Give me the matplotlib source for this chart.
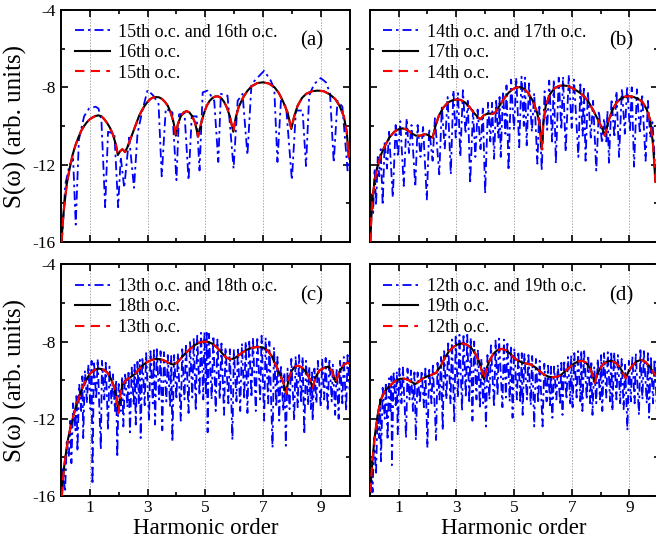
import matplotlib
matplotlib.use("Agg")
import matplotlib.pyplot as plt
from matplotlib.ticker import FixedLocator

plt.rcParams['font.family'] = ['Liberation Serif', 'DejaVu Serif']

# ---------------- data ----------------
xticks_major = [1, 3, 5, 7, 9]
xticks_minor = [0, 2, 4, 6, 8, 10]
yticks_major = [-16, -12, -8, -4]
yticks_minor = [-14, -10, -6]
xlabel = "Harmonic order"
ylabel = "S(ω) (arb. units)"

labels_a = ["15th o.c. and 16th o.c.", "16th o.c.", "15th o.c."]
labels_b = ["14th o.c. and 17th o.c.", "17th o.c.", "14th o.c."]
labels_c = ["13th o.c. and 18th o.c.", "18th o.c.", "13th o.c."]
labels_d = ["12th o.c. and 19th o.c.", "19th o.c.", "12th o.c."]
panel_tags = ["(a)", "(b)", "(c)", "(d)"]

# panel (a)
a_blue_x = [0.03, 0.15, 0.3, 0.42, 0.51, 0.62, 0.8, 0.97, 1.2, 1.3, 1.4, 1.53, 1.63, 1.85, 1.98,
            2.07, 2.19, 2.36, 2.53, 2.65, 2.82, 3.0, 3.2, 3.38, 3.49, 3.63, 3.86, 4.0, 4.09, 4.28,
            4.42, 4.53, 4.7, 4.8, 4.91, 5.08, 5.31, 5.45, 5.54, 5.77, 5.98, 6.12, 6.29, 6.46, 6.6,
            7.04, 7.27, 7.39, 7.5, 7.62, 7.8, 8.0, 8.14, 8.37, 8.49, 8.6, 8.77, 9.0, 9.18, 9.32,
            9.45, 9.58, 9.75, 9.93, 10.0]
a_blue_y = [-16.0, -13.0, -12.0, -11.7, -15.1, -10.7, -9.5, -9.1, -9.0, -9.1, -9.7, -14.2, -10.3, -10.4, -14.2,
            -11.6, -13.2, -10.6, -13.2, -10.4, -9.2, -8.14, -8.43, -8.86, -12.6, -9.1, -9.3, -12.8, -9.4, -9.35,
            -12.8, -9.5, -9.5, -12.3, -8.26, -8.17, -8.7, -11.86, -8.34, -8.43, -12.2, -8.7, -8.34, -11.5, -7.83,
            -7.14, -7.66, -8.09, -11.86, -8.7, -9.0, -12.8, -9.2, -9.2, -12.07, -8.43, -7.83, -7.52, -7.74, -8.3,
            -11.9, -8.7, -9.0, -12.3, -11.5]
a_black_x = [0.02, 0.05, 0.1, 0.2, 0.3, 0.4, 0.5, 0.6, 0.7, 0.8, 0.9, 1.0, 1.1, 1.2, 1.3, 1.4, 1.5, 1.6,
             1.7, 1.8, 1.9, 1.97, 2.05, 2.13, 2.22, 2.3, 2.4, 2.5, 2.6, 2.7, 2.8, 2.9, 3.0, 3.1, 3.2,
             3.3, 3.4, 3.5, 3.6, 3.7, 3.8, 3.9, 3.98, 4.05, 4.15, 4.25, 4.35, 4.45, 4.55, 4.65, 4.75,
             4.85, 4.95, 5.05, 5.15, 5.25, 5.35, 5.45, 5.55, 5.65, 5.75, 5.85, 5.97, 6.05, 6.15, 6.3,
             6.45, 6.6, 6.8, 7.0, 7.2, 7.4, 7.55, 7.7, 7.85, 7.98, 8.08, 8.2, 8.35, 8.5, 8.7, 8.9, 9.1,
             9.3, 9.5, 9.65, 9.8, 9.9, 9.97, 10.0]
a_black_y = [-16.0, -15.2, -14.3, -13.0, -12.2, -11.5, -11.0, -10.6, -10.25, -10.0, -9.8, -9.65, -9.55, -9.48, -9.45, -9.5, -9.65, -9.85,
             -10.1, -10.45, -10.95, -11.5, -11.3, -11.2, -11.35, -11.1, -10.7, -10.3, -9.9, -9.5, -9.2, -8.95, -8.75, -8.6, -8.52,
             -8.5, -8.52, -8.6, -8.75, -8.95, -9.3, -9.8, -10.5, -9.9, -9.5, -9.3, -9.23, -9.3, -9.5, -9.85, -10.55,
             -9.9, -9.35, -8.95, -8.7, -8.55, -8.47, -8.47, -8.55, -8.75, -9.05, -9.5, -10.3, -9.6, -9.05, -8.55,
             -8.2, -7.95, -7.78, -7.74, -7.8, -8.0, -8.3, -8.75, -9.3, -10.15, -9.5, -8.95, -8.55, -8.33, -8.2, -8.17, -8.2,
             -8.35, -8.6, -8.95, -9.5, -10.3, -11.6, -11.2]
a_red_x = list(a_black_x)
a_red_y = list(a_black_y)

# panel (b)
b_blue_x = [0.02, 0.08, 0.12, 0.17, 0.22, 0.28, 0.33, 0.38, 0.45, 0.52, 0.6, 0.67, 0.8, 0.9, 0.98, 1.06,
            1.18, 1.28, 1.36, 1.45, 1.58, 1.66, 1.76, 1.85, 1.98, 2.06, 2.18, 2.26, 2.41, 2.5, 2.6, 2.7,
            2.81, 2.9, 2.98, 3.06, 3.14, 3.23, 3.32, 3.4, 3.48, 3.58, 3.66, 3.74, 3.84, 3.92, 4.0, 4.1,
            4.18, 4.24, 4.31, 4.38, 4.46, 4.5, 4.54, 4.62, 4.7, 4.74, 4.81, 4.9, 5.0, 5.08, 5.18, 5.26,
            5.34, 5.38, 5.44, 5.52, 5.62, 5.7, 5.81, 5.88, 5.96, 6.06, 6.15, 6.22, 6.32, 6.38, 6.45, 6.55,
            6.64, 6.7, 6.79, 6.9, 7.0, 7.08, 7.23, 7.3, 7.38, 7.42, 7.48, 7.56, 7.66, 7.74, 7.85, 7.94,
            8.05, 8.12, 8.2, 8.24, 8.29, 8.38, 8.48, 8.55, 8.64, 8.74, 8.84, 8.92, 9.02, 9.08, 9.16, 9.26,
            9.36, 9.44, 9.56, 9.64, 9.72, 9.8, 9.9, 10.0]
b_blue_y = [-16.0, -13.4, -14.5, -12.2, -14.1, -11.6, -12.6, -11.2, -14.1, -10.8, -12.2, -10.3, -13.7, -9.95, -11.6, -9.75,
            -13.1, -9.6, -11.4, -9.95, -13.15, -9.95, -11.6, -10.05, -13.8, -10.15, -11.8, -9.6, -12.5, -9.0, -11.2, -8.5,
            -12.5, -8.15, -10.6, -8.3, -11.6, -8.15, -10.4, -8.7, -13.0, -9.2, -11.6, -9.15, -11.2, -9.1, -13.5, -8.8,
            -10.8, -8.8, -11.7, -8.7, -10.6, -8.5, -11.6, -8.2, -10.4, -7.9, -12.3, -7.6, -10.2, -7.5, -11.1, -7.45,
            -10.0, -7.5, -11.0, -7.8, -10.3, -8.3, -11.95, -9.0, -12.3, -8.2, -10.2, -7.65, -10.8, -7.6, -11.95, -7.5,
            -10.2, -7.45, -11.35, -7.35, -10.1, -7.6, -11.6, -7.85, -10.5, -7.95, -11.8, -8.2, -10.6, -8.7, -12.3, -9.2,
            -10.9, -9.6, -10.8, -9.2, -11.9, -8.6, -10.6, -8.2, -11.6, -8.05, -10.4, -7.95, -10.3, -8.0, -12.1, -8.1,
            -10.4, -8.35, -11.8, -8.7, -10.6, -9.8, -12.5, -11.5]
b_black_x = [0.02, 0.06, 0.1, 0.16, 0.25, 0.39, 0.5, 0.68, 0.85, 1.0, 1.15, 1.3, 1.45, 1.6, 1.75, 1.9, 2.0,
             2.1, 2.18, 2.28, 2.4, 2.55, 2.7, 2.85, 3.0, 3.15, 3.3, 3.45, 3.6, 3.75, 3.83, 3.95, 4.1, 4.25,
             4.35, 4.5, 4.65, 4.8, 4.95, 5.1, 5.2, 5.35, 5.5, 5.65, 5.8, 5.9, 5.96, 6.02, 6.1, 6.25, 6.4,
             6.55, 6.7, 6.85, 7.0, 7.15, 7.3, 7.45, 7.6, 7.75, 7.9, 8.05, 8.15, 8.25, 8.4, 8.55, 8.7, 8.85,
             9.0, 9.15, 9.3, 9.45, 9.6, 9.72, 9.82, 9.9, 10.0]
b_black_y = [-16.0, -14.6, -13.7, -13.0, -12.2, -11.5, -11.1, -10.6, -10.3, -10.17, -10.12, -10.2, -10.38, -10.5, -10.5, -10.42, -10.45,
             -10.55, -10.6, -10.0, -9.45, -9.05, -8.8, -8.68, -8.63, -8.65, -8.78, -9.0, -9.3, -9.55, -9.65, -9.45, -9.35, -9.38,
             -9.3, -8.95, -8.6, -8.3, -8.1, -8.0, -7.99, -8.08, -8.3, -8.7, -9.3, -10.0, -11.2, -9.8, -8.95, -8.35, -8.05,
             -7.93, -7.9, -7.93, -8.02, -8.15, -8.3, -8.5, -8.8, -9.2, -9.65, -10.1, -10.5, -9.85, -9.2, -8.8, -8.58, -8.48,
             -8.46, -8.5, -8.6, -8.75, -9.15, -9.7, -11.0, -12.9, -11.5]
b_red_x = list(b_black_x)
b_red_y = list(b_black_y)

# panel (c)
c_blue_x = [0.03, 0.07, 0.14, 0.2, 0.27, 0.32, 0.36, 0.42, 0.5, 0.54, 0.57, 0.63, 0.7, 0.74, 0.77, 0.83,
            0.9, 0.95, 1.02, 1.06, 1.09, 1.14, 1.22, 1.27, 1.38, 1.42, 1.5, 1.55, 1.63, 1.68, 1.75, 1.8,
            1.87, 1.91, 1.95, 2.0, 2.07, 2.12, 2.16, 2.22, 2.3, 2.34, 2.39, 2.45, 2.52, 2.55, 2.59, 2.65,
            2.7, 2.73, 2.76, 2.82, 2.9, 2.95, 3.05, 3.1, 3.18, 3.22, 3.26, 3.32, 3.4, 3.45, 3.51, 3.57,
            3.65, 3.7, 3.78, 3.82, 3.86, 3.92, 4.0, 4.05, 4.15, 4.2, 4.28, 4.33, 4.42, 4.47, 4.55, 4.6,
            4.67, 4.72, 4.8, 4.85, 4.93, 4.97, 5.02, 5.05, 5.08, 5.13, 5.22, 5.28, 5.36, 5.42, 5.5, 5.56,
            5.65, 5.7, 5.8, 5.85, 5.94, 5.99, 6.08, 6.13, 6.21, 6.27, 6.35, 6.4, 6.46, 6.52, 6.6, 6.65,
            6.75, 6.8, 6.9, 6.95, 7.04, 7.09, 7.18, 7.22, 7.33, 7.38, 7.46, 7.5, 7.56, 7.62, 7.7, 7.74,
            7.79, 7.85, 7.92, 7.98, 8.08, 8.13, 8.2, 8.25, 8.32, 8.37, 8.43, 8.49, 8.56, 8.6, 8.66, 8.7,
            8.72, 8.78, 8.85, 8.9, 9.0, 9.05, 9.12, 9.17, 9.24, 9.3, 9.38, 9.42, 9.5, 9.55, 9.62, 9.67,
            9.75, 9.8, 9.88, 9.93, 10.0]
c_blue_y = [-16.0, -14.6, -15.8, -13.2, -14.0, -12.0, -14.3, -11.2, -12.6, -10.7, -13.7, -10.2, -11.6, -9.8, -13.0, -9.5,
            -11.2, -9.2, -11.5, -9.0, -15.4, -9.0, -11.0, -8.9, -13.6, -9.0, -11.0, -9.1, -12.6, -9.3, -11.2, -9.7,
            -11.6, -10.0, -14.0, -10.2, -11.6, -9.8, -12.4, -9.6, -11.4, -9.5, -12.7, -9.35, -11.3, -9.2, -12.3, -9.05,
            -11.2, -8.95, -13.0, -8.8, -11.3, -8.6, -12.1, -8.5, -11.2, -8.45, -12.3, -8.4, -11.0, -8.5, -12.6, -8.55,
            -11.1, -8.7, -11.4, -8.75, -13.2, -8.7, -11.0, -8.6, -12.1, -8.4, -11.0, -8.1, -11.7, -7.95, -10.9, -7.8,
            -11.6, -7.7, -10.8, -7.55, -11.0, -7.5, -10.8, -7.55, -12.7, -7.6, -11.0, -7.7, -11.6, -7.9, -11.0, -8.1,
            -11.8, -8.3, -11.2, -8.4, -13.1, -8.4, -11.1, -8.3, -11.6, -8.1, -11.0, -8.0, -11.7, -7.9, -10.9, -7.8,
            -11.6, -7.75, -11.0, -7.7, -12.1, -7.8, -11.2, -8.0, -13.5, -8.3, -11.4, -8.8, -12.1, -9.2, -11.6, -9.6,
            -13.4, -9.4, -11.5, -8.9, -12.1, -8.75, -11.4, -8.7, -11.2, -8.8, -12.8, -9.0, -11.3, -9.3, -11.5, -9.6,
            -12.1, -9.4, -11.2, -9.0, -11.4, -8.9, -11.0, -8.85, -11.6, -8.9, -11.1, -9.2, -11.8, -9.4, -12.0, -9.0,
            -11.2, -8.8, -11.6, -8.7, -10.5]
c_black_x = [0.03, 0.06, 0.1, 0.16, 0.25, 0.34, 0.43, 0.51, 0.62, 0.74, 0.88, 1.03, 1.18, 1.32, 1.46, 1.6,
             1.72, 1.84, 1.92, 1.99, 2.05, 2.13, 2.25, 2.4, 2.55, 2.7, 2.85, 3.0, 3.15, 3.3, 3.45, 3.6,
             3.75, 3.9, 4.05, 4.2, 4.35, 4.5, 4.65, 4.8, 4.95, 5.1, 5.25, 5.4, 5.55, 5.7, 5.85, 6.0,
             6.15, 6.3, 6.45, 6.6, 6.8, 6.98, 7.15, 7.3, 7.45, 7.6, 7.72, 7.8, 7.88, 7.98, 8.1, 8.22,
             8.35, 8.5, 8.62, 8.72, 8.82, 8.95, 9.1, 9.25, 9.38, 9.52, 9.65, 9.8, 9.93, 10.0]
c_black_y = [-16.0, -15.3, -14.6, -13.9, -13.0, -12.4, -11.85, -11.4, -10.9, -10.4, -9.95, -9.62, -9.45, -9.4, -9.45, -9.6,
             -9.9, -10.35, -10.9, -11.7, -10.8, -10.25, -10.0, -9.85, -9.7, -9.45, -9.2, -9.05, -8.95, -8.9, -8.92, -9.0,
             -9.12, -9.2, -9.05, -8.8, -8.55, -8.35, -8.17, -8.05, -8.0, -8.02, -8.12, -8.3, -8.55, -8.8, -8.92, -8.88,
             -8.72, -8.55, -8.42, -8.33, -8.28, -8.3, -8.45, -8.75, -9.25, -9.75, -10.2, -10.7, -10.0, -9.55, -9.3, -9.25,
             -9.35, -9.6, -9.95, -10.4, -9.85, -9.5, -9.38, -9.3, -9.5, -10.1, -9.55, -9.2, -9.1, -9.15]
c_red_x = list(c_black_x)
c_red_y = list(c_black_y)

# panel (d)
d_blue_x = [0.02, 0.06, 0.1, 0.15, 0.22, 0.27, 0.33, 0.36, 0.39, 0.45, 0.52, 0.56, 0.62, 0.67, 0.72, 0.75,
            0.77, 0.83, 0.9, 0.94, 0.97, 1.03, 1.1, 1.15, 1.26, 1.31, 1.38, 1.43, 1.5, 1.55, 1.6, 1.66,
            1.74, 1.8, 1.88, 1.93, 2.0, 2.06, 2.14, 2.19, 2.3, 2.35, 2.42, 2.47, 2.53, 2.58, 2.66, 2.72,
            2.8, 2.85, 2.93, 2.98, 3.06, 3.11, 3.2, 3.25, 3.33, 3.38, 3.45, 3.5, 3.56, 3.62, 3.7, 3.75,
            3.82, 3.87, 3.93, 3.97, 4.03, 4.08, 4.15, 4.2, 4.31, 4.36, 4.43, 4.48, 4.6, 4.65, 4.72, 4.77,
            4.85, 4.9, 4.95, 5.01, 5.1, 5.15, 5.22, 5.27, 5.3, 5.36, 5.45, 5.5, 5.58, 5.63, 5.7, 5.76,
            5.84, 5.89, 5.99, 6.05, 6.13, 6.18, 6.25, 6.28, 6.33, 6.39, 6.47, 6.52, 6.6, 6.64, 6.68, 6.74,
            6.82, 6.87, 6.95, 6.98, 7.03, 7.09, 7.17, 7.22, 7.3, 7.33, 7.37, 7.43, 7.52, 7.57, 7.64, 7.68,
            7.72, 7.78, 7.85, 7.9, 7.98, 8.02, 8.06, 8.12, 8.2, 8.25, 8.33, 8.37, 8.41, 8.47, 8.55, 8.6,
            8.68, 8.73, 8.8, 8.85, 8.93, 8.98, 9.05, 9.1, 9.18, 9.22, 9.33, 9.38, 9.45, 9.5, 9.6, 9.64,
            9.68, 9.74, 9.82, 9.87, 9.95, 10.0]
d_blue_y = [-15.9, -14.2, -15.8, -13.0, -14.9, -11.8, -13.0, -11.0, -14.2, -10.4, -12.0, -10.1, -13.1, -9.9, -11.6, -9.8,
            -14.4, -9.65, -11.3, -9.55, -12.8, -9.4, -11.2, -9.35, -13.0, -9.4, -11.0, -9.5, -11.6, -9.6, -13.1, -9.6,
            -11.2, -9.5, -11.4, -9.4, -13.5, -9.35, -11.2, -9.25, -13.1, -9.1, -11.0, -8.8, -12.6, -8.5, -11.0, -8.1,
            -11.2, -7.9, -12.2, -7.75, -10.9, -7.65, -11.6, -7.6, -10.9, -7.65, -11.2, -7.8, -12.1, -8.0, -11.0, -8.4,
            -11.5, -8.9, -11.2, -9.3, -12.4, -8.7, -11.0, -8.2, -11.4, -7.95, -10.8, -7.85, -11.4, -7.9, -10.9, -8.0,
            -11.1, -8.2, -11.95, -8.35, -11.0, -8.5, -11.2, -8.6, -11.8, -8.65, -11.0, -8.7, -11.3, -8.75, -12.4, -8.9,
            -11.2, -9.0, -12.4, -9.15, -11.1, -9.25, -11.3, -9.3, -11.95, -9.3, -11.0, -9.2, -11.3, -9.1, -11.8, -8.95,
            -11.0, -8.8, -11.2, -8.7, -11.4, -8.6, -10.9, -8.5, -11.1, -8.45, -11.6, -8.5, -11.0, -8.7, -11.2, -9.0,
            -11.8, -9.3, -11.2, -8.9, -11.0, -8.7, -11.6, -8.6, -10.9, -8.55, -11.1, -8.5, -11.6, -8.55, -11.0, -8.7,
            -11.2, -8.9, -11.5, -9.2, -12.6, -9.0, -11.1, -8.75, -11.2, -8.6, -11.8, -8.45, -11.0, -8.5, -11.2, -8.6,
            -11.95, -8.75, -11.2, -8.9, -11.5, -9.2]
d_black_x = [0.02, 0.06, 0.1, 0.16, 0.22, 0.3, 0.39, 0.5, 0.62, 0.76, 0.91, 1.05, 1.2, 1.35, 1.48, 1.58,
             1.7, 1.85, 2.0, 2.15, 2.3, 2.45, 2.6, 2.75, 2.9, 3.05, 3.2, 3.35, 3.5, 3.65, 3.78, 3.88,
             3.96, 4.05, 4.15, 4.28, 4.42, 4.58, 4.72, 4.88, 5.0, 5.15, 5.3, 5.45, 5.6, 5.75, 5.9, 6.05,
             6.2, 6.35, 6.5, 6.65, 6.8, 6.95, 7.1, 7.25, 7.38, 7.5, 7.62, 7.72, 7.8, 7.88, 7.98, 8.1,
             8.25, 8.4, 8.52, 8.65, 8.75, 8.87, 8.97, 9.1, 9.25, 9.4, 9.55, 9.7, 9.85, 10.0]
d_black_y = [-15.8, -14.9, -14.1, -13.1, -12.4, -11.6, -11.0, -10.65, -10.4, -10.2, -10.02, -9.93, -9.92, -10.0, -10.12, -10.2,
             -10.08, -9.9, -9.8, -9.72, -9.62, -9.3, -8.85, -8.5, -8.28, -8.15, -8.1, -8.15, -8.3, -8.6, -9.0, -9.5,
             -9.95, -9.4, -9.0, -8.65, -8.45, -8.38, -8.45, -8.65, -8.85, -9.0, -9.1, -9.15, -9.2, -9.35, -9.55, -9.72,
             -9.82, -9.85, -9.82, -9.7, -9.5, -9.3, -9.12, -9.02, -9.0, -9.1, -9.35, -9.7, -10.15, -9.7, -9.4, -9.15,
             -9.02, -9.0, -9.1, -9.3, -9.55, -9.9, -9.55, -9.25, -9.03, -8.95, -9.05, -9.3, -9.65, -9.9]
d_red_x = list(d_black_x)
d_red_y = list(d_black_y)

# ---------------- figure ----------------
W, H = 656, 543
fig = plt.figure(figsize=(W / 100, H / 100), dpi=100)

def frac(l, t, r, b):
    return [l / W, 1 - b / H, (r - l) / W, (b - t) / H]

boxes = [frac(61, 10, 349.6, 242), frac(369.7, 10, 658.3, 242),
         frac(61, 264.3, 349.6, 496), frac(369.7, 264.3, 658.3, 496)]

panels = [
    (a_blue_x, a_blue_y, a_black_x, a_black_y, a_red_x, a_red_y, labels_a),
    (b_blue_x, b_blue_y, b_black_x, b_black_y, b_red_x, b_red_y, labels_b),
    (c_blue_x, c_blue_y, c_black_x, c_black_y, c_red_x, c_red_y, labels_c),
    (d_blue_x, d_blue_y, d_black_x, d_black_y, d_red_x, d_red_y, labels_d),
]

for i, (box, pdata) in enumerate(zip(boxes, panels)):
    bx, by, kx, ky, rx, ry, labs = pdata
    ax = fig.add_axes(box)
    ax.plot(bx, by, color='#0000ff', lw=1.3, linestyle=(0, (5, 2.2, 1.4, 2.2)), label=labs[0], zorder=2)
    ax.plot(kx, ky, color='black', lw=1.5, linestyle='-', label=labs[1], zorder=3)
    ax.plot(rx, ry, color='#ff0000', lw=1.5, linestyle=(0, (4.5, 3)), label=labs[2], zorder=4)
    ax.set_xlim(0, 10)
    ax.set_ylim(-16, -4)
    ax.xaxis.set_major_locator(FixedLocator(xticks_major))
    ax.xaxis.set_minor_locator(FixedLocator(xticks_minor))
    ax.yaxis.set_major_locator(FixedLocator(yticks_major))
    ax.yaxis.set_minor_locator(FixedLocator(yticks_minor))
    ax.grid(axis='x', which='major', color='#aaaaaa', linestyle=(0, (1.5, 1.5)), lw=0.7, zorder=0)
    ax.tick_params(which='both', direction='in', top=True, right=True, width=1.2, labelsize=12.5)
    ax.tick_params(which='major', length=5)
    ax.tick_params(which='minor', length=3)
    ax.tick_params(axis='x', pad=3)
    ax.tick_params(axis='y', pad=4)
    for s in ax.spines.values():
        s.set_linewidth(1.4)
    if i % 2 == 1:
        ax.tick_params(labelleft=False)
    else:
        ax.set_ylabel(ylabel, fontsize=18, labelpad=4)
        ax.set_yticklabels([str(v) for v in yticks_major])
    if i < 2:
        ax.tick_params(labelbottom=False)
    else:
        ax.set_xlabel(xlabel, fontsize=16.5, labelpad=1)
    ax.text(0.87, 0.865, panel_tags[i], transform=ax.transAxes, fontsize=15, ha='center', va='center')
    ax.legend(loc='upper left', frameon=False, fontsize=13, handlelength=1.95, handletextpad=0.45,
              labelspacing=0.2, borderaxespad=0.15, borderpad=0.6)

fig.savefig('out.png', dpi=100)
